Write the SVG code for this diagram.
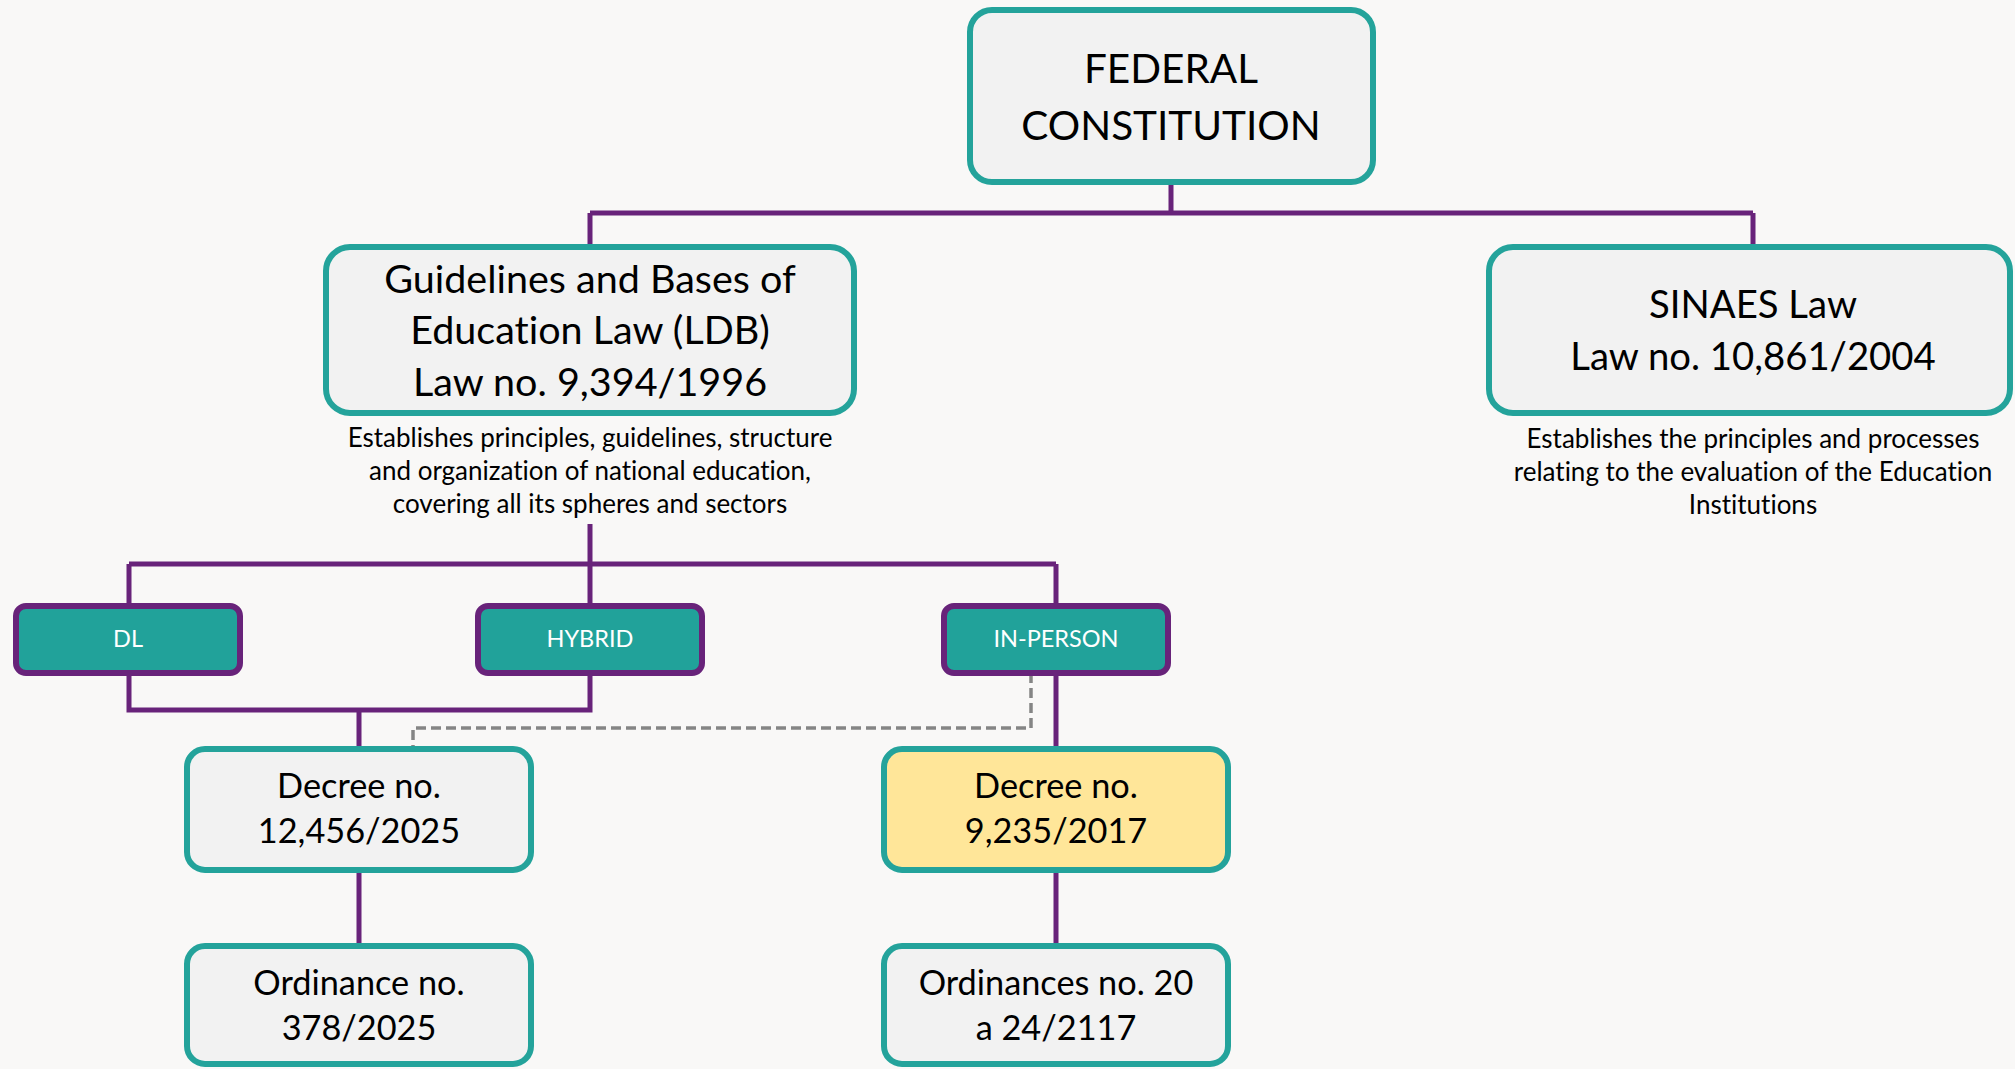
<svg xmlns="http://www.w3.org/2000/svg" width="2015" height="1069" viewBox="0 0 2015 1069">
<style>
.node{fill:#F2F2F2;stroke:#24A39B;stroke-width:6}
.yel{fill:#FFE699;stroke:#24A39B;stroke-width:6}
.mode{fill:#21A29A;stroke:#68237A;stroke-width:6}
.t{font-family:Lato,"Noto Sans",sans-serif;fill:#000;text-anchor:middle;font-variant-ligatures:none}
.big{font-size:40.5px}
.mid{font-size:39.5px}
.mid2{font-size:38.3px}
.desc{font-size:26px}
.dec{font-size:34.3px}
.w{font-family:Lato,"Noto Sans",sans-serif;fill:#fff;text-anchor:middle;font-size:23.5px;font-variant-ligatures:none}
.c{fill:none;stroke:#68237A;stroke-width:5}
.d{fill:none;stroke:#858585;stroke-width:3.5;stroke-dasharray:10 5}
</style>
<rect width="2015" height="1069" fill="#F9F8F7"/>
<g id="connectors">
<path class="c" d="M1171 182V213M590 213H1753M590 213V247M1753 213V247"/>
<path class="c" d="M590 524V564M129 564H1056M129 564V605M590 564V605M1056 564V605"/>
<path class="c" d="M129 673V710H590V673M359 710V748"/>
<path class="c" d="M1056 673V748"/>
<path class="d" d="M1031 673V728H413V748"/>
<path class="c" d="M359 870V945M1056 870V945"/>
</g>
<g id="federal">
<rect class="node" x="970" y="10" width="403" height="172" rx="22"/>
<text class="t big" x="1171" y="83">FEDERAL</text>
<text class="t big" x="1171" y="140">CONSTITUTION</text>
</g>
<g id="ldb">
<rect class="node" x="326" y="247" width="528" height="166" rx="24"/>
<text class="t mid" x="590" y="293">Guidelines and Bases of</text>
<text class="t mid" x="590" y="344">Education Law (LDB)</text>
<text class="t mid" x="590" y="396">Law no. 9,394/1996</text>
<text class="t desc" x="590" y="447">Establishes principles, guidelines, structure</text>
<text class="t desc" x="590" y="480">and organization of national education,</text>
<text class="t desc" x="590" y="513">covering all its spheres and sectors</text>
</g>
<g id="sinaes">
<rect class="node" x="1489" y="247" width="521" height="166" rx="24"/>
<text class="t mid2" x="1753" y="318">SINAES Law</text>
<text class="t mid2" x="1753" y="370">Law no. 10,861/2004</text>
<text class="t desc" x="1753" y="448">Establishes the principles and processes</text>
<text class="t desc" x="1753" y="481">relating to the evaluation of the Education</text>
<text class="t desc" x="1753" y="514">Institutions</text>
</g>
<g id="dl">
<rect class="mode" x="16" y="606" width="224" height="67" rx="10"/>
<text class="w" x="128" y="647">DL</text>
</g>
<g id="hybrid">
<rect class="mode" x="478" y="606" width="224" height="67" rx="10"/>
<text class="w" x="590" y="647">HYBRID</text>
</g>
<g id="inperson">
<rect class="mode" x="944" y="606" width="224" height="67" rx="10"/>
<text class="w" x="1056" y="647">IN-PERSON</text>
</g>
<g id="decree1">
<rect class="node" x="187" y="749" width="344" height="121" rx="18"/>
<text class="t dec" x="359" y="798">Decree no.</text>
<text class="t dec" x="359" y="843">12,456/2025</text>
</g>
<g id="decree2">
<rect class="yel" x="884" y="749" width="344" height="121" rx="18"/>
<text class="t dec" x="1056" y="798">Decree no.</text>
<text class="t dec" x="1056" y="843">9,235/2017</text>
</g>
<g id="ord1">
<rect class="node" x="187" y="946" width="344" height="118" rx="18"/>
<text class="t dec" x="359" y="995">Ordinance no.</text>
<text class="t dec" x="359" y="1040">378/2025</text>
</g>
<g id="ord2">
<rect class="node" x="884" y="946" width="344" height="118" rx="18"/>
<text class="t dec" x="1056" y="995">Ordinances no. 20</text>
<text class="t dec" x="1056" y="1040">a 24/2117</text>
</g>
</svg>
